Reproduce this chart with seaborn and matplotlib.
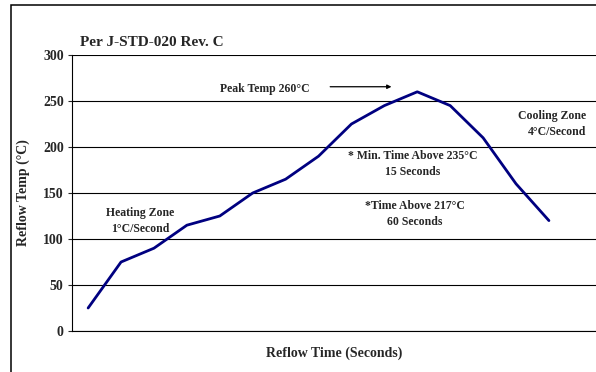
import matplotlib
matplotlib.use("Agg")
import matplotlib.pyplot as plt
from matplotlib.patches import Rectangle
import seaborn as sns
import pandas as pd

# Reflow profile points (one per time step)
time_step = list(range(15))
reflow_temp = [25, 75, 90, 115, 125, 150, 165, 190, 225, 245, 260, 245, 210, 160, 120]
y_ticks = [0, 50, 100, 150, 200, 250, 300]

df = pd.DataFrame({"time": time_step, "temp": reflow_temp})

sns.set_style("white")
plt.rcParams["font.family"] = ["Liberation Serif", "DejaVu Serif"]
plt.rcParams["font.weight"] = "bold"

fig = plt.figure(figsize=(5.96, 3.72), dpi=100)
ax = fig.add_axes([72 / 596, 1 - 331 / 372, 1 - 72 / 596, (331 - 55) / 372])

# Outer frame (open at right and bottom, as in the cropped original)
fig.patches.append(Rectangle((11 / 596, -0.2), 1.5, 1.2 - 5 / 372, transform=fig.transFigure,
                             fill=False, edgecolor="black", linewidth=1.1))

sns.lineplot(data=df, x="time", y="temp", ax=ax, color="#000080", linewidth=2.0)

ax.set_xlim(-0.49, 15.43)
ax.set_ylim(0, 300)
ax.set_yticks(y_ticks)
ax.set_yticklabels([str(v) for v in y_ticks], fontsize=10, fontweight="bold")
ax.set_xticks([])
ax.yaxis.grid(True, color="black", linewidth=0.8)
ax.tick_params(axis="y", direction="out", length=3, width=0.8, pad=3, left=True)
for side in ["top", "right"]:
    ax.spines[side].set_visible(False)
ax.spines["left"].set_color("black")
ax.spines["left"].set_linewidth(0.8)
ax.spines["bottom"].set_color("black")
ax.spines["bottom"].set_linewidth(0.8)

ax.set_ylabel("Reflow Temp (°C)", fontsize=10, fontweight="bold")
ax.yaxis.set_label_coords(-0.08, 0.5)
ax.set_xlabel("Reflow Time (Seconds)", fontsize=10, fontweight="bold")
ax.xaxis.set_label_coords(0.5, -0.058)

fig.text(80 / 596, 1 - 43 / 372, "Per J-STD-020 Rev. C", fontsize=11, fontweight="bold",
         ha="left", va="center")

txt = dict(fontsize=8.5, fontweight="bold", linespacing=1.45)
ax.text(5.37, 263, "Peak Temp 260°C", ha="center", va="center", **txt)
ax.annotate("", xy=(9.3, 265.5), xytext=(7.27, 265.5),
            arrowprops=dict(arrowstyle="-|>", color="black", lw=0.9, mutation_scale=6))
ax.text(15.12, 225, "Cooling Zone\n4°C/Second", ha="right", va="center",
        multialignment="right", **txt)
ax.text(9.87, 182, "* Min. Time Above 235°C\n15 Seconds", ha="center", va="center", **txt)
ax.text(9.93, 127, "*Time Above 217°C\n60 Seconds", ha="center", va="center", **txt)
ax.text(1.58, 120, "Heating Zone\n1°C/Second", ha="center", va="center", **txt)

fig.savefig("out.png", dpi=100)
